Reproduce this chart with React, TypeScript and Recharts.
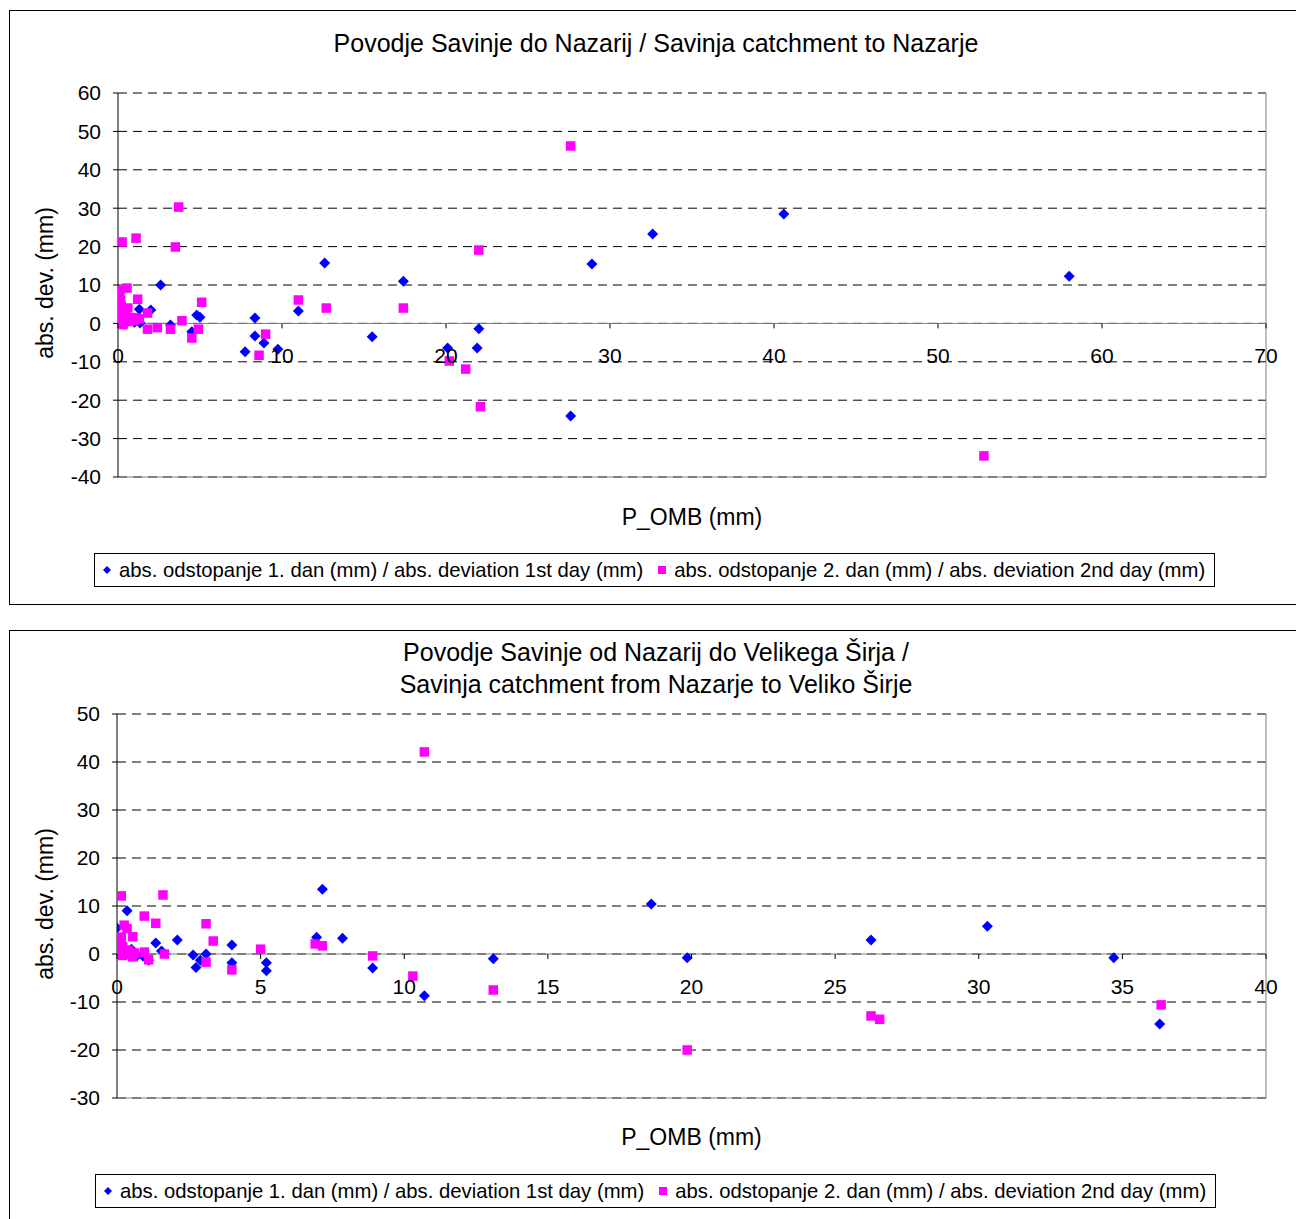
import React from 'react';
import { ScatterChart, Scatter, XAxis, YAxis, CartesianGrid, ReferenceLine } from 'recharts';

// Povodje Savinje do Nazarij: [P_OMB, abs. odstopanje]
const nazarjeDay1 = [
  [58.0, 12.3], [40.6, 28.5], [32.6, 23.3], [28.9, 15.5], [27.6, -24.1], [22.0, -1.4],
  [21.9, -6.4], [20.1, -6.4], [17.4, 11.0], [15.5, -3.5], [12.6, 15.7], [11.0, 3.2],
  [9.75, -6.7], [8.9, -5.1], [8.35, -3.3], [8.35, 1.4], [7.75, -7.4], [5.0, 1.6],
  [4.8, 2.2], [4.5, -2.2], [3.2, -0.4], [2.6, 10.0], [2.0, 3.5], [1.3, 3.7], [1.35, 0.1],
  [0, 8.7], [0.05, 4.5], [0.1, 2], [0.2, 1], [0.3, 0.5], [0.5, 0.2], [0.8, 0.8],
  [1.0, 0.3], [0.15, 5.5], [0.3, 3], [0.6, 1.5], [0.05, 0.5],
];
const nazarjeDay2 = [
  [27.6, 46.2], [52.8, -34.5], [22.0, 19.1], [22.1, -21.7], [21.2, -11.9], [20.2, -9.8],
  [17.4, 4.0], [12.7, 4.0], [11.0, 6.1], [9.0, -2.8], [8.6, -8.3], [5.1, 5.5], [4.9, -1.5],
  [4.5, -3.8], [3.9, 0.7], [3.7, 30.3], [3.5, 19.9], [3.2, -1.5], [2.4, -1.1], [1.8, 2.7],
  [1.8, -1.5], [1.2, 6.3], [1.1, 22.2], [0.25, 21.2], [0.55, 9.2], [0.05, 8.5], [0.1, 7],
  [0.15, 6], [0.2, 4.5], [0.3, 3], [0.4, 2], [0.5, 1], [0.7, 0.5], [0.9, 1.5], [1.0, 0.8],
  [0.1, 0], [0.3, -0.3], [1.3, 1.2], [0.6, 4], [0.2, 2],
];

// Povodje Savinje od Nazarij do Velikega Širja
const sirjeDay1 = [
  [36.3, -14.6], [34.7, -0.8], [30.3, 5.8], [26.25, 2.9], [19.85, -0.8], [18.6, 10.4],
  [13.1, -1.0], [10.7, -8.7], [8.9, -2.9], [7.85, 3.3], [7.15, 13.5], [6.95, 3.5],
  [5.2, -1.8], [5.2, -3.5], [4.0, 1.9], [4.0, -1.8], [3.1, 0], [2.9, -1.3], [2.75, -2.8],
  [2.65, -0.2], [2.1, 2.9], [1.55, 0.6], [1.35, 2.3], [1.1, -1.3], [0.9, -0.4], [0.35, 9.0],
  [0, 5.4], [0.05, 3], [0.1, 1.5], [0.2, 0.5], [0.3, 0.2], [0.5, 1], [0.7, -0.3], [0.15, 2.2],
];
const sirjeDay2 = [
  [10.7, 42.1], [10.3, -4.6], [13.1, -7.5], [19.85, -20], [26.25, -12.9], [26.55, -13.6],
  [36.35, -10.6], [0.15, 12.1], [1.6, 12.3], [0.95, 7.9], [1.35, 6.4], [3.1, 6.3],
  [3.35, 2.7], [0.55, 3.6], [0.25, 6.0], [0.35, 5.3], [5.0, 1.0], [6.9, 2.1], [7.15, 1.7],
  [8.9, -0.4], [3.1, -1.7], [4.0, -3.3], [1.65, 0], [1.1, -1.2], [0.95, 0.4], [0.55, -0.6],
  [0.05, 2], [0.1, 0.5], [0.2, 1.5], [0.3, 0], [0.4, 0.8], [0.6, 0.2], [0.15, 3.5], [0.2, -0.3],
];

const nazarjeXTicks = [0, 10, 20, 30, 40, 50, 60, 70];
const nazarjeYTicks = [-40, -30, -20, -10, 0, 10, 20, 30, 40, 50, 60];
const sirjeXTicks = [0, 5, 10, 15, 20, 25, 30, 35, 40];
const sirjeYTicks = [-30, -20, -10, 0, 10, 20, 30, 40, 50];

const DAY1_LABEL = 'abs. odstopanje 1. dan (mm) / abs. deviation 1st day (mm)';
const DAY2_LABEL = 'abs. odstopanje 2. dan (mm) / abs. deviation 2nd day (mm)';
const BLUE = '#0000FF';
const PINK = '#FF00FF';
const FONT = "'Liberation Sans', Arial, sans-serif";

const toPoints = (rows: number[][]) => rows.map(([x, y]) => ({ x, y }));

const Diamond = (props: any) => {
  const { cx, cy } = props;
  if (cx == null || cy == null) return null;
  const r = 5.5;
  return <path d={`M${cx},${cy - r}L${cx + r},${cy}L${cx},${cy + r}L${cx - r},${cy}Z`} fill={BLUE} />;
};

const Square = (props: any) => {
  const { cx, cy } = props;
  if (cx == null || cy == null) return null;
  return <rect x={cx - 4.75} y={cy - 4.75} width={9.5} height={9.5} fill={PINK} />;
};

const CHART_W = 1292;

function Panel({ top, height, title, xTicks, yTicks, day1, day2, plot, legendTop, legendLeft }: any) {
  const yMin = yTicks[0];
  const yMax = yTicks[yTicks.length - 1];
  const xMax = xTicks[xTicks.length - 1];
  // x axis crosses at y = 0, so its ticks are lifted from the bottom of the plot
  const lift = (plot.h * (0 - yMin)) / (yMax - yMin);
  const chartH = height - 2;
  const xAxisH = 30;

  const XTick = ({ x, y, payload }: any) => (
    <g>
      <line x1={x} x2={x} y1={y - lift} y2={y - lift + 5} stroke="#000" />
      <text x={x} y={y - lift + 40} textAnchor="middle" fontSize={21} fontFamily={FONT} fill="#000">
        {payload.value}
      </text>
    </g>
  );

  return (
    <div
      style={{
        position: 'absolute', left: 9, top, width: 1294, height,
        border: '1px solid #000', boxSizing: 'border-box', background: '#fff', fontFamily: FONT,
      }}
    >
      <div style={{ position: 'absolute', left: 0, right: 0, top: title.top, textAlign: 'center', fontSize: 25, lineHeight: '32px', color: '#000' }}>
        {title.lines.map((l: string) => <div key={l}>{l}</div>)}
      </div>
      <ScatterChart
        width={CHART_W}
        height={chartH}
        margin={{ top: plot.top, right: CHART_W - plot.left - plot.w, bottom: chartH - plot.top - plot.h - xAxisH, left: 0 }}
      >
        <CartesianGrid horizontal vertical={false} stroke="#000" strokeDasharray="9 6" />
        <XAxis
          type="number"
          dataKey="x"
          domain={[xTicks[0], xMax]}
          ticks={xTicks}
          interval={0}
          allowDataOverflow
          height={xAxisH}
          axisLine={false}
          tickLine={false}
          tickSize={0}
          tickMargin={0}
          tick={XTick}
        />
        <YAxis
          type="number"
          dataKey="y"
          domain={[yMin, yMax]}
          ticks={yTicks}
          interval={0}
          allowDataOverflow
          width={plot.left}
          axisLine={{ stroke: '#000' }}
          tickLine={{ stroke: '#000' }}
          tickSize={5}
          tickMargin={12}
          tick={{ fontSize: 21, fontFamily: FONT, fill: '#000' }}
        />
        <ReferenceLine y={yMin} stroke="#808080" />
        <ReferenceLine x={xMax} stroke="#808080" />
        <ReferenceLine y={0} stroke="#808080" />
        <Scatter data={toPoints(day1)} fill={BLUE} shape={Diamond} isAnimationActive={false} />
        <Scatter data={toPoints(day2)} fill={PINK} shape={Square} isAnimationActive={false} />
      </ScatterChart>
      <div
        style={{
          position: 'absolute', left: 35, top: plot.top + plot.h / 2 - 2, transform: 'translate(-50%, -50%) rotate(-90deg)',
          fontSize: 23, whiteSpace: 'nowrap', color: '#000',
        }}
      >
        abs. dev. (mm)
      </div>
      <div
        style={{
          position: 'absolute', left: plot.left + plot.w / 2, top: 506, transform: 'translate(-50%, -50%)',
          fontSize: 23, whiteSpace: 'nowrap', color: '#000',
        }}
      >
        P_OMB (mm)
      </div>
      <div
        style={{
          position: 'absolute', left: legendLeft, top: legendTop, width: 1121, height: 34,
          border: '1px solid #000', boxSizing: 'border-box', display: 'flex', alignItems: 'center',
          fontSize: 20.3, color: '#000', whiteSpace: 'nowrap', paddingLeft: 8,
        }}
      >
        <svg width={8} height={8} style={{ marginRight: 8 }}>
          <path d="M4,0L8,4L4,8L0,4Z" fill={BLUE} />
        </svg>
        <span>{DAY1_LABEL}</span>
        <svg width={8} height={8} style={{ marginLeft: 15, marginRight: 8 }}>
          <rect x={0} y={0} width={8} height={8} fill={PINK} />
        </svg>
        <span>{DAY2_LABEL}</span>
      </div>
    </div>
  );
}

export default function App() {
  return (
    <div style={{ position: 'fixed', left: 0, top: 0, width: 1296, height: 1219, overflow: 'hidden', background: '#fff' }}>
      <Panel
        top={10}
        height={595}
        title={{ top: 16, lines: ['Povodje Savinje do Nazarij / Savinja catchment to Nazarje'] }}
        xTicks={nazarjeXTicks}
        yTicks={nazarjeYTicks}
        day1={nazarjeDay1}
        day2={nazarjeDay2}
        plot={{ left: 108, top: 82, w: 1148, h: 384 }}
        legendTop={542}
        legendLeft={84}
      />
      <Panel
        top={630}
        height={600}
        title={{ top: 5, lines: ['Povodje Savinje od Nazarij do Velikega Širja /', 'Savinja catchment from Nazarje to Veliko Širje'] }}
        xTicks={sirjeXTicks}
        yTicks={sirjeYTicks}
        day1={sirjeDay1}
        day2={sirjeDay2}
        plot={{ left: 107, top: 83, w: 1149, h: 384 }}
        legendTop={543}
        legendLeft={85}
      />
    </div>
  );
}
